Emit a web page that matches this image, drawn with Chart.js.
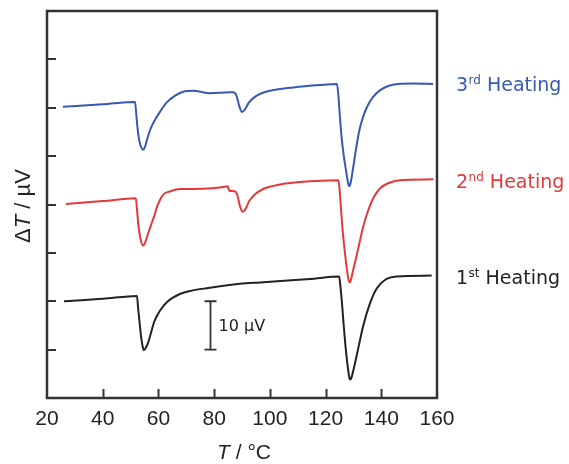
<!DOCTYPE html>
<html>
<head>
<meta charset="utf-8">
<script src="https://cdn.jsdelivr.net/npm/chart.js@4/dist/chart.umd.min.js"></script>
<style>
  html, body { margin: 0; padding: 0; background: #fff; }
  canvas { display: block; }
</style>
</head>
<body>
<canvas id="dtaChart" width="569" height="464"></canvas>
<script>
// DTA heating curves, temperature (°C) vs ΔT (µV, offset for display)
const xTicks = [20, 40, 60, 80, 100, 120, 140, 160];
const yTicks = [0, 10, 20, 30, 40, 50, 60, 70, 80];

const seriesNames = ['3rd Heating', '2nd Heating', '1st Heating'];

const tBlue = [25.7, 40, 51.6, 52.0, 52.5, 53.2, 54.0, 54.5, 55.1, 56.0, 57.0, 58.2, 60.6, 63.0, 66.0, 68.9,
  72.5, 78.5, 85.7, 86.9, 88.0, 89.0, 90.0, 91.0, 92.4, 94.5, 97, 100, 108.4, 118, 124.1, 124.6, 125.1, 125.7,
  126.5, 127.4, 128.1, 128.5, 129.0, 129.8, 130.8, 132.0, 133.4, 135.0, 137.0, 139.5, 142.5, 146, 152, 158.6];
const vBlue = [60.2, 60.7, 61.2, 59.0, 55.8, 53.0, 51.6, 51.3, 51.8, 53.6, 55.4, 56.9, 59.2, 61.1, 62.5, 63.3,
  63.5, 63.0, 63.2, 63.2, 62.5, 60.4, 59.1, 59.6, 61.0, 62.2, 63.0, 63.5, 64.2, 64.7, 64.9, 62.5, 58.5, 54.2,
  50.2, 46.8, 44.4, 43.8, 44.5, 47.2, 51.0, 55.0, 58.0, 60.3, 62.2, 63.6, 64.5, 64.9, 65.0, 64.9];

const tRed = [26.8, 40, 51.9, 52.3, 52.8, 53.5, 54.2, 54.6, 55.2, 56.2, 57.3, 58.6, 59.6, 60.6, 62.0, 64.1,
  67.7, 72.5, 84.3, 84.8, 85.4, 87.6, 88.4, 89.2, 90.2, 91.2, 92.5, 94.5, 97.6, 102.4, 118, 124.6, 125.1,
  125.6, 126.2, 127.0, 127.8, 128.5, 129.0, 129.8, 130.8, 132.0, 133.4, 135.2, 137.2, 139.7, 142.5, 146.7, 158.7];
const vRed = [40.1, 40.7, 41.3, 39.0, 35.8, 33.0, 31.7, 31.5, 32.1, 33.8, 35.7, 37.8, 39.7, 41.0, 42.2, 42.7,
  43.2, 43.2, 43.7, 43.8, 42.9, 42.7, 41.8, 39.8, 38.5, 39.0, 40.6, 42.0, 43.2, 44.0, 44.9, 45.0, 42.6,
  38.6, 34.2, 29.8, 26.0, 23.9, 24.2, 26.2, 28.6, 31.6, 35.2, 38.6, 41.4, 43.4, 44.4, 45.0, 45.2];

const tBlack = [26.1, 40, 52.3, 52.7, 53.2, 53.8, 54.4, 54.8, 55.4, 56.4, 57.4, 58.4, 59.5, 60.6, 63.0, 67.7,
  72, 77.3, 89.3, 96.5, 114.4, 124.9, 125.3, 125.8, 126.4, 127.1, 127.8, 128.4, 128.8, 129.3, 130.0, 130.8,
  131.7, 133.5, 135.9, 138.3, 141.3, 145.5, 158.1];
const vBlack = [20.0, 20.5, 21.1, 18.6, 15.8, 12.6, 10.5, 9.9, 10.3, 11.6, 13.6, 15.6, 17.0, 18.1, 19.8, 21.5,
  22.2, 22.7, 23.6, 23.9, 24.6, 25.1, 23.2, 20.3, 15.8, 11.0, 7.2, 4.6, 3.8, 4.2, 5.8, 7.8,
  10.2, 14.9, 19.5, 22.6, 24.4, 25.1, 25.3];

const colors = ['#3659b4', '#e2393a', '#222222'];

function toPoints(ts, vs) {
  return ts.map((t, i) => ({ x: t, y: vs[i] }));
}

// frame, inward ticks, titles, curve labels and the 10 µV scale bar
const decorations = {
  id: 'decorations',
  afterDraw(chart) {
    const ctx = chart.ctx;
    const a = chart.chartArea;
    const xs = chart.scales.x;
    const ys = chart.scales.y;
    ctx.save();
    ctx.strokeStyle = '#333';
    ctx.lineWidth = 2.5;
    ctx.strokeRect(a.left, a.top, a.right - a.left, a.bottom - a.top);

    ctx.lineWidth = 2;
    ctx.beginPath();
    xTicks.slice(1, -1).forEach(t => {
      const px = Math.round(xs.getPixelForValue(t)) + 0.5;
      ctx.moveTo(px, a.bottom);
      ctx.lineTo(px, a.bottom - 9);
    });
    yTicks.slice(1, -1).forEach(v => {
      const py = Math.round(ys.getPixelForValue(v));
      ctx.moveTo(a.left, py);
      ctx.lineTo(a.left + 9, py);
    });
    ctx.stroke();

    // scale bar
    const bx = Math.round(xs.getPixelForValue(78.5)) + 0.5;
    const by1 = ys.getPixelForValue(20);
    const by2 = ys.getPixelForValue(10);
    ctx.lineWidth = 1.8;
    ctx.beginPath();
    ctx.moveTo(bx, by1); ctx.lineTo(bx, by2);
    ctx.moveTo(bx - 6, by1); ctx.lineTo(bx + 6, by1);
    ctx.moveTo(bx - 6, by2); ctx.lineTo(bx + 6, by2);
    ctx.stroke();
    ctx.fillStyle = '#222';
    ctx.font = '16px "DejaVu Sans"';
    ctx.textBaseline = 'middle';
    ctx.textAlign = 'left';
    ctx.fillText('10 \u00b5V', bx + 8, (by1 + by2) / 2 + 1);

    // x title: T / °C
    ctx.textBaseline = 'alphabetic';
    ctx.font = 'italic 21px "Liberation Sans"';
    const wT = ctx.measureText('T').width;
    ctx.font = '21px "Liberation Sans"';
    const wRest = ctx.measureText(' / \u00b0C').width;
    let x0 = 244 - (wT + wRest) / 2;
    ctx.font = 'italic 21px "Liberation Sans"';
    ctx.fillText('T', x0, 459);
    ctx.font = '21px "Liberation Sans"';
    ctx.fillText(' / \u00b0C', x0 + wT, 459);

    // y title: ΔT / µV
    ctx.save();
    ctx.translate(30, 206);
    ctx.rotate(-Math.PI / 2);
    ctx.font = '22px "Liberation Sans"';
    const wD = ctx.measureText('\u0394').width;
    const wR = ctx.measureText(' / \u00b5V').width;
    ctx.font = 'italic 22px "Liberation Sans"';
    const wTy = ctx.measureText('T').width;
    let s = -(wD + wTy + wR) / 2;
    ctx.font = '22px "Liberation Sans"';
    ctx.fillText('\u0394', s, 0);
    ctx.font = 'italic 22px "Liberation Sans"';
    ctx.fillText('T', s + wD, 0);
    ctx.font = '22px "Liberation Sans"';
    ctx.fillText(' / \u00b5V', s + wD + wTy, 0);
    ctx.restore();

    // curve labels with superscripts
    const labelY = [91, 188, 284];
    const parts = [['3', 'rd'], ['2', 'nd'], ['1', 'st']];
    seriesNames.forEach((name, i) => {
      let lx = 456;
      ctx.fillStyle = colors[i];
      ctx.font = '19px "DejaVu Sans"';
      ctx.fillText(parts[i][0], lx, labelY[i]);
      lx += ctx.measureText(parts[i][0]).width;
      ctx.font = '12px "DejaVu Sans"';
      ctx.fillText(parts[i][1], lx + 0.5, labelY[i] - 7);
      lx += ctx.measureText(parts[i][1]).width + 0.5;
      ctx.font = '19px "DejaVu Sans"';
      ctx.fillText(' ' + name.split(' ')[1], lx, labelY[i]);
    });
    ctx.restore();
  }
};

const ctx = document.getElementById('dtaChart').getContext('2d');

new Chart(ctx, {
  type: 'line',
  data: {
    datasets: [
      { label: seriesNames[0], data: toPoints(tBlue, vBlue), borderColor: colors[0] },
      { label: seriesNames[1], data: toPoints(tRed, vRed), borderColor: colors[1] },
      { label: seriesNames[2], data: toPoints(tBlack, vBlack), borderColor: colors[2] }
    ]
  },
  options: {
    responsive: false,
    animation: false,
    layout: { padding: { top: 11, right: 132, left: 0, bottom: 0 } },
    elements: {
      line: { borderWidth: 2, cubicInterpolationMode: 'monotone', fill: false },
      point: { radius: 0 }
    },
    plugins: {
      legend: { display: false },
      tooltip: { enabled: false }
    },
    scales: {
      x: {
        type: 'linear',
        min: 20,
        max: 160,
        afterBuildTicks: (scale) => { scale.ticks = xTicks.map(v => ({ value: v })); },
        afterFit: (scale) => { scale.height = 66; },
        grid: { display: false, drawTicks: false },
        border: { display: false },
        ticks: {
          padding: 9,
          maxRotation: 0,
          color: '#222',
          font: { family: 'Liberation Sans', size: 21 }
        }
      },
      y: {
        min: 0,
        max: 80,
        afterBuildTicks: (scale) => { scale.ticks = yTicks.map(v => ({ value: v })); },
        afterFit: (scale) => { scale.width = 47; },
        grid: { display: false, drawTicks: false },
        border: { display: false },
        ticks: { display: false }
      }
    }
  },
  plugins: [decorations]
});
</script>
</body>
</html>
